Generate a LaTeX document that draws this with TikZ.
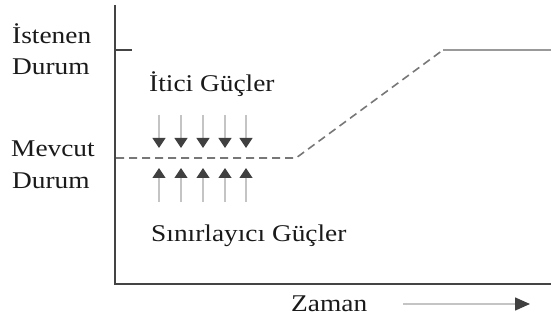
\documentclass[tikz,border=0pt]{standalone}
\usepackage{fontspec}
\setmainfont{Liberation Serif}[FakeStretch=1.14]
\usetikzlibrary{arrows.meta}
\definecolor{txtcol}{HTML}{1A1A1A}
\definecolor{axiscol}{HTML}{444444}
\definecolor{dashcol}{HTML}{777777}
\definecolor{uppercol}{HTML}{999999}
\definecolor{shaftcol}{HTML}{C4C4C4}
\definecolor{headcol}{HTML}{404040}
\begin{document}
\begin{tikzpicture}[x=1pt,y=-1pt,
  lbl/.style={anchor=base west,inner sep=0pt,text=txtcol,font=\fontsize{24}{31}\selectfont},
  axisline/.style={draw=axiscol,line width=2pt},
  forcearrow/.style={draw=shaftcol,line width=1.3pt,-{Triangle[width=13pt,length=10pt,color=headcol]}},
  timearrow/.style={draw=shaftcol,line width=1.5pt,-{Triangle[width=13pt,length=15pt,color=headcol]}}]
\useasboundingbox (0,0) rectangle (551,320);
% axes
\coordinate (ytop) at (115,5);
\coordinate (orig) at (115,284);
\coordinate (xend) at (551,284);
\coordinate (tickL) at (115,50);
\coordinate (tickR) at (132,50);
\draw[axisline] (ytop) -- (orig) -- (xend);
\draw[axisline] (tickL) -- (tickR);
% current/desired state path
\coordinate (c0) at (116,158);
\coordinate (c1) at (296,158);
\coordinate (c2) at (443,50);
\coordinate (c3) at (551,50);
\draw[draw=dashcol,line width=1.6pt,dash pattern=on 8pt off 5pt] (c0) -- (c1) -- (c2);
\draw[draw=uppercol,line width=2pt] (c2) -- (c3);
% labels
\node[lbl] (ist) at (12,44) {İstenen};
\node[lbl] (dur1) at (12,75) {Durum};
\node[lbl] (mev) at (11,157) {Mevcut};
\node[lbl] (dur2) at (12,189) {Durum};
\node[lbl] (itici) at (149,92) {İtici Güçler};
\node[lbl] (sinir) at (151,242) {Sınırlayıcı Güçler};
\node[lbl] (zaman) at (291,311) {Zaman};
% force arrows
\foreach \i/\x in {1/159,2/181,3/203,4/225,5/246}{
  \coordinate (dt\i) at (\x,115);
  \coordinate (db\i) at (\x,148);
  \coordinate (ub\i) at (\x,202);
  \coordinate (ut\i) at (\x,168);
  \draw[forcearrow] (dt\i) -- (db\i);
  \draw[forcearrow] (ub\i) -- (ut\i);
}
% time arrow
\coordinate (ta) at (403,304);
\coordinate (tb) at (530,304);
\draw[timearrow] (ta) -- (tb);
\end{tikzpicture}
\end{document}
